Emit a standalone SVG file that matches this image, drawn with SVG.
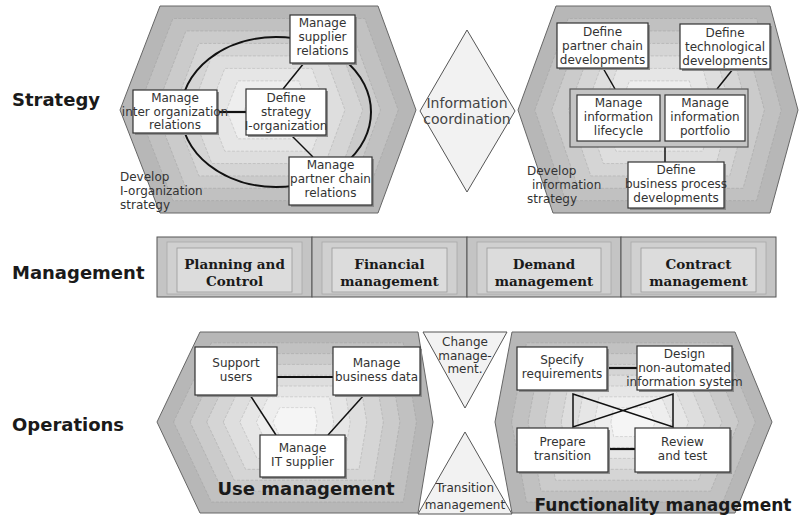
<svg xmlns="http://www.w3.org/2000/svg" xmlns:xlink="http://www.w3.org/1999/xlink" width="800" height="515" viewBox="0 0 800 515">
<style>
.r0{fill:#b7b7b7;stroke:#666;stroke-width:1}
.r1{fill:#c1c1c1;stroke:#a2a2a2;stroke-width:.6;stroke-dasharray:3 1.5}
.r2{fill:#cbcbcb;stroke:#a6a6a6;stroke-width:.6;stroke-dasharray:3 1.5}
.r3{fill:#d5d5d5;stroke:#acacac;stroke-width:.6;stroke-dasharray:3 1.5}
.r4{fill:#dedede;stroke:#b2b2b2;stroke-width:.6;stroke-dasharray:3 1.5}
.r5{fill:#e6e6e6;stroke:#b8b8b8;stroke-width:.6;stroke-dasharray:3 1.5}
.r6{fill:#eeeeee;stroke:#bebebe;stroke-width:.6;stroke-dasharray:3 1.5}
.r7{fill:#f5f5f5;stroke:#c4c4c4;stroke-width:.6;stroke-dasharray:3 1.5}
.box{fill:#fff;stroke:#333;stroke-width:1.2}
.shd{fill:#8c8c8c}
.t{font-family:"DejaVu Sans",Verdana,sans-serif;font-size:12px;fill:#333;text-anchor:middle}
.lbl{font-family:"DejaVu Sans",Verdana,sans-serif;font-size:18px;font-weight:bold;fill:#1a1a1a}
.sub{font-family:"DejaVu Sans",Verdana,sans-serif;font-size:12px;fill:#333}
.big{font-family:"DejaVu Sans",Verdana,sans-serif;font-weight:bold;fill:#1a1a1a;text-anchor:middle}
.mg{font-family:"DejaVu Serif","Liberation Serif",serif;font-size:13.5px;font-weight:bold;fill:#1a1a1a;text-anchor:middle}
.cell{fill:#c4c4c4;stroke:#555;stroke-width:1}
.in1{fill:#d0d0d0;stroke:#a8a8a8;stroke-width:.8}
.in2{fill:#dcdcdc;stroke:#999;stroke-width:.8}
.tri{fill:#f2f2f2;stroke:#555;stroke-width:1}
.conn{stroke:#111;stroke-width:1.5;fill:none}
.thick{stroke:#111;stroke-width:2.2;fill:none}
</style>
<defs>
<polygon id="pTL" points="120,110 160,6 378,6 416,110 378,213 160,213" vector-effect="non-scaling-stroke"/>
<polygon id="pTR" points="518,110 556,6 770,6 798,110 770,213 553,213" vector-effect="non-scaling-stroke"/>
<polygon id="pBL" points="157,422 200,332 418,332 433,422 418,513 200,513" vector-effect="non-scaling-stroke"/>
<polygon id="pBR" points="495,422 512,332 735,332 772,422 735,513 512,513" vector-effect="non-scaling-stroke"/>
</defs>
<rect width="800" height="515" fill="#fff"/>

<g id="labels">
<text class="lbl" x="12" y="106">Strategy</text>
<text class="lbl" x="12" y="279">Management</text>
<text class="lbl" x="12" y="431">Operations</text>
</g>

<g id="hex-iorg-strategy">
<use xlink:href="#pTL" class="r0"/>
<use xlink:href="#pTL" class="r1" transform="translate(268 110) scale(.88) translate(-268 -110)"/>
<use xlink:href="#pTL" class="r2" transform="translate(268 110) scale(.76) translate(-268 -110)"/>
<use xlink:href="#pTL" class="r3" transform="translate(268 110) scale(.64) translate(-268 -110)"/>
<use xlink:href="#pTL" class="r4" transform="translate(268 110) scale(.52) translate(-268 -110)"/>
<use xlink:href="#pTL" class="r5" transform="translate(268 110) scale(.40) translate(-268 -110)"/>
<use xlink:href="#pTL" class="r6" transform="translate(268 110) scale(.28) translate(-268 -110)"/>
<use xlink:href="#pTL" class="r7" transform="translate(268 110) scale(.16) translate(-268 -110)"/>
<text class="sub" x="120" y="181">Develop</text>
<text class="sub" x="120" y="195">I-organization</text>
<text class="sub" x="120" y="209">strategy</text>
</g>

<g id="hex-info-strategy">
<use xlink:href="#pTR" class="r0"/>
<use xlink:href="#pTR" class="r1" transform="translate(658 110) scale(.88) translate(-658 -110)"/>
<use xlink:href="#pTR" class="r2" transform="translate(658 110) scale(.76) translate(-658 -110)"/>
<use xlink:href="#pTR" class="r3" transform="translate(658 110) scale(.64) translate(-658 -110)"/>
<use xlink:href="#pTR" class="r4" transform="translate(658 110) scale(.52) translate(-658 -110)"/>
<use xlink:href="#pTR" class="r5" transform="translate(658 110) scale(.40) translate(-658 -110)"/>
<use xlink:href="#pTR" class="r6" transform="translate(658 110) scale(.28) translate(-658 -110)"/>
<use xlink:href="#pTR" class="r7" transform="translate(658 110) scale(.16) translate(-658 -110)"/>
<text class="sub" x="527" y="175">Develop</text>
<text class="sub" x="532" y="189">information</text>
<text class="sub" x="527" y="203">strategy</text>
</g>

<g id="info-coordination">
<polygon points="467,30 515,111 467,192 420,111" class="tri"/>
<text class="t" x="467" y="108" style="font-size:14px;fill:#444">Information</text>
<text class="t" x="467" y="124" style="font-size:14px;fill:#444">coordination</text>
</g>

<g id="hex-use-mgmt">
<use xlink:href="#pBL" class="r0"/>
<use xlink:href="#pBL" class="r1" transform="translate(295 422) scale(.88) translate(-295 -422)"/>
<use xlink:href="#pBL" class="r2" transform="translate(295 422) scale(.76) translate(-295 -422)"/>
<use xlink:href="#pBL" class="r3" transform="translate(295 422) scale(.64) translate(-295 -422)"/>
<use xlink:href="#pBL" class="r4" transform="translate(295 422) scale(.52) translate(-295 -422)"/>
<use xlink:href="#pBL" class="r5" transform="translate(295 422) scale(.40) translate(-295 -422)"/>
<use xlink:href="#pBL" class="r6" transform="translate(295 422) scale(.28) translate(-295 -422)"/>
<use xlink:href="#pBL" class="r7" transform="translate(295 422) scale(.16) translate(-295 -422)"/>
<text class="big" x="306" y="495" style="font-size:18px">Use management</text>
</g>

<g id="hex-func-mgmt">
<use xlink:href="#pBR" class="r0"/>
<use xlink:href="#pBR" class="r1" transform="translate(633 422) scale(.88) translate(-633 -422)"/>
<use xlink:href="#pBR" class="r2" transform="translate(633 422) scale(.76) translate(-633 -422)"/>
<use xlink:href="#pBR" class="r3" transform="translate(633 422) scale(.64) translate(-633 -422)"/>
<use xlink:href="#pBR" class="r4" transform="translate(633 422) scale(.52) translate(-633 -422)"/>
<use xlink:href="#pBR" class="r5" transform="translate(633 422) scale(.40) translate(-633 -422)"/>
<use xlink:href="#pBR" class="r6" transform="translate(633 422) scale(.28) translate(-633 -422)"/>
<use xlink:href="#pBR" class="r7" transform="translate(633 422) scale(.16) translate(-633 -422)"/>
<text class="big" x="663" y="511" style="font-size:17px">Functionality management</text>
</g>

<g id="change-mgmt">
<polygon points="423,332 507,332 465,408" class="tri"/>
<text class="t" x="465" y="346">Change</text>
<text class="t" x="465" y="360">manage-</text>
<text class="t" x="465" y="373">ment.</text>
</g>

<g id="transition-mgmt">
<polygon points="465,432 512,514 418,514" class="tri"/>
<text class="t" x="465" y="492">Transition</text>
<text class="t" x="465" y="509">management</text>
</g>

<g id="connectors">
<ellipse cx="276" cy="112" rx="95" ry="75" fill="none" stroke="#111" stroke-width="2"/>
<line class="conn" x1="304" y1="63" x2="283" y2="89"/>
<line class="thick" x1="217" y1="112" x2="246" y2="112"/>
<line class="conn" x1="291" y1="135" x2="313" y2="157"/>
<line class="conn" x1="603" y1="68" x2="615" y2="89"/>
<line class="conn" x1="733" y1="69" x2="717" y2="89"/>
<line class="conn" x1="665" y1="147" x2="665" y2="162"/>
<line class="thick" x1="277" y1="377" x2="333" y2="377"/>
<line class="conn" x1="250" y1="395" x2="276" y2="435"/>
<line class="conn" x1="364" y1="395" x2="328" y2="435"/>
<line class="thick" x1="607" y1="368" x2="637" y2="368"/>
<line class="thick" x1="608" y1="449" x2="635" y2="449"/>
<polygon class="conn" points="573,394 673,427 673,394 573,427"/>
</g>

<g id="manage-supplier">
<rect class="shd" x="292" y="17" width="65" height="48"/>
<rect class="box" x="290" y="15" width="65" height="48"/>
<text class="t" x="322.5" y="27">Manage</text>
<text class="t" x="322.5" y="41">supplier</text>
<text class="t" x="322.5" y="55">relations</text>
</g>
<g id="manage-inter-org">
<rect class="shd" x="135" y="92" width="84" height="43"/>
<rect class="box" x="133" y="90" width="84" height="43"/>
<text class="t" x="175" y="102">Manage</text>
<text class="t" x="175" y="116">inter organization</text>
<text class="t" x="175" y="129">relations</text>
</g>
<g id="define-strategy">
<rect class="shd" x="248" y="91" width="80" height="46"/>
<rect class="box" x="246" y="89" width="80" height="46"/>
<text class="t" x="286" y="102">Define</text>
<text class="t" x="286" y="116">strategy</text>
<text class="t" x="286" y="130">I-organization</text>
</g>
<g id="manage-partner-chain">
<rect class="shd" x="291" y="159" width="83" height="48"/>
<rect class="box" x="289" y="157" width="83" height="48"/>
<text class="t" x="330.5" y="169">Manage</text>
<text class="t" x="330.5" y="183">partner chain</text>
<text class="t" x="330.5" y="197">relations</text>
</g>

<g id="define-partner-chain-dev">
<rect class="shd" x="559" y="25" width="91" height="45"/>
<rect class="box" x="557" y="23" width="91" height="45"/>
<text class="t" x="602.5" y="36">Define</text>
<text class="t" x="602.5" y="50">partner chain</text>
<text class="t" x="602.5" y="64">developments</text>
</g>
<g id="define-tech-dev">
<rect class="shd" x="682" y="26" width="90" height="45"/>
<rect class="box" x="680" y="24" width="90" height="45"/>
<text class="t" x="725" y="37">Define</text>
<text class="t" x="725" y="51">technological</text>
<text class="t" x="725" y="65">developments</text>
</g>
<g id="manage-information">
<rect x="570" y="89" width="178" height="58" fill="#c4c4c4" stroke="#555" stroke-width="1.2"/>
<g id="manage-info-lifecycle">
<rect class="box" x="577" y="95" width="83" height="46"/>
<text class="t" x="618.5" y="107">Manage</text>
<text class="t" x="618.5" y="121">information</text>
<text class="t" x="618.5" y="135">lifecycle</text>
</g>
<g id="manage-info-portfolio">
<rect class="box" x="665" y="95" width="80" height="46"/>
<text class="t" x="705" y="107">Manage</text>
<text class="t" x="705" y="121">information</text>
<text class="t" x="705" y="135">portfolio</text>
</g>
</g>
<g id="define-bp-dev">
<rect class="shd" x="630" y="164" width="96" height="46"/>
<rect class="box" x="628" y="162" width="96" height="46"/>
<text class="t" x="676" y="174">Define</text>
<text class="t" x="676" y="188">business process</text>
<text class="t" x="676" y="202">developments</text>
</g>

<g id="mgmt-planning">
<rect class="cell" x="157" y="237" width="155" height="60"/>
<rect class="in1" x="167" y="242" width="135" height="52"/>
<rect class="in2" x="177" y="248" width="115" height="44"/>
<text class="mg" x="234.5" y="269">Planning and</text>
<text class="mg" x="234.5" y="286">Control</text>
</g>
<g id="mgmt-financial">
<rect class="cell" x="312" y="237" width="155" height="60"/>
<rect class="in1" x="322" y="242" width="135" height="52"/>
<rect class="in2" x="332" y="248" width="115" height="44"/>
<text class="mg" x="389.5" y="269">Financial</text>
<text class="mg" x="389.5" y="286">management</text>
</g>
<g id="mgmt-demand">
<rect class="cell" x="467" y="237" width="154" height="60"/>
<rect class="in1" x="477" y="242" width="134" height="52"/>
<rect class="in2" x="487" y="248" width="114" height="44"/>
<text class="mg" x="544" y="269">Demand</text>
<text class="mg" x="544" y="286">management</text>
</g>
<g id="mgmt-contract">
<rect class="cell" x="621" y="237" width="155" height="60"/>
<rect class="in1" x="631" y="242" width="135" height="52"/>
<rect class="in2" x="641" y="248" width="115" height="44"/>
<text class="mg" x="698.5" y="269">Contract</text>
<text class="mg" x="698.5" y="286">management</text>
</g>

<g id="support-users">
<rect class="shd" x="197" y="349" width="80" height="48"/>
<rect class="box" x="195" y="347" width="82" height="48"/>
<text class="t" x="236" y="367">Support</text>
<text class="t" x="236" y="381">users</text>
</g>
<g id="manage-business-data">
<rect class="shd" x="335" y="349" width="87" height="48"/>
<rect class="box" x="333" y="347" width="87" height="48"/>
<text class="t" x="376.5" y="367">Manage</text>
<text class="t" x="376.5" y="381">business data</text>
</g>
<g id="manage-it-supplier">
<rect class="shd" x="262" y="437" width="85" height="42"/>
<rect class="box" x="260" y="435" width="85" height="42"/>
<text class="t" x="302.5" y="452">Manage</text>
<text class="t" x="302.5" y="466">IT supplier</text>
</g>

<g id="specify-requirements">
<rect class="shd" x="519" y="349" width="90" height="43"/>
<rect class="box" x="517" y="347" width="90" height="43"/>
<text class="t" x="562" y="364">Specify</text>
<text class="t" x="562" y="378">requirements</text>
</g>
<g id="design-non-automated">
<rect class="shd" x="639" y="348" width="95" height="44"/>
<rect class="box" x="637" y="346" width="95" height="44"/>
<text class="t" x="684.5" y="358">Design</text>
<text class="t" x="684.5" y="372">non-automated</text>
<text class="t" x="684.5" y="386">information system</text>
</g>
<g id="prepare-transition">
<rect class="shd" x="519" y="430" width="91" height="44"/>
<rect class="box" x="517" y="428" width="91" height="44"/>
<text class="t" x="562.5" y="446">Prepare</text>
<text class="t" x="562.5" y="460">transition</text>
</g>
<g id="review-test">
<rect class="shd" x="637" y="430" width="95" height="44"/>
<rect class="box" x="635" y="428" width="95" height="44"/>
<text class="t" x="682.5" y="446">Review</text>
<text class="t" x="682.5" y="460">and test</text>
</g>
</svg>
